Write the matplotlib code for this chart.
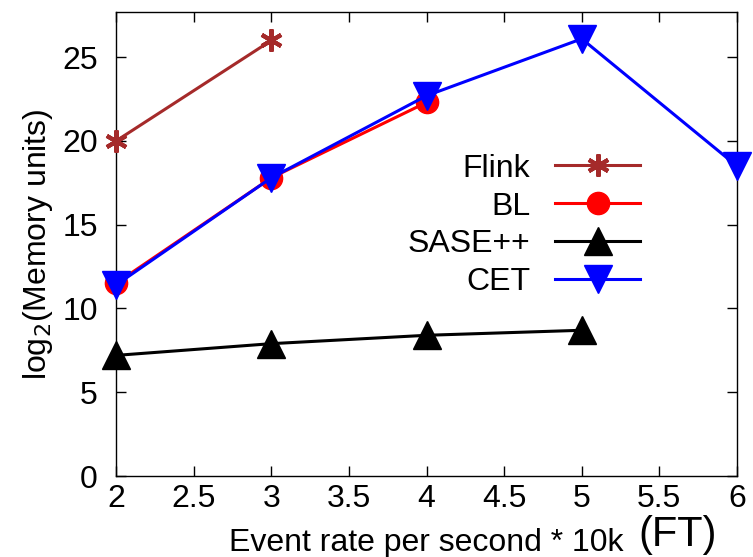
import numpy as np
import matplotlib.pyplot as plt

plt.rcParams['font.family'] = ['Liberation Sans', 'DejaVu Sans']

# data
x_flink = [2, 3]
y_flink = [20.0, 26.0]

x_bl = [2, 3, 4]
y_bl = [11.5, 17.8, 22.3]

x_sase = [2, 3, 4, 5]
y_sase = [7.2, 7.9, 8.4, 8.7]

x_cet = [2, 3, 4, 5, 6]
y_cet = [11.4, 17.8, 22.7, 26.1, 18.5]

xticks = [2, 2.5, 3, 3.5, 4, 4.5, 5, 5.5, 6]
xticklabels = ['2', '2.5', '3', '3.5', '4', '4.5', '5', '5.5', '6']
yticks = [0, 5, 10, 15, 20, 25]

fig = plt.figure(figsize=(7.53, 5.57), dpi=100)
ax = fig.add_axes([116/753, 81/557, 621/753, 464/557])

lw = 2.2
ax.plot(x_flink, y_flink, color='#a52a2a', lw=lw, marker=(6, 2, 0),
        ms=16, mew=3, label='Flink', clip_on=False, zorder=3)
ax.plot(x_bl, y_bl, color='#ff0000', lw=lw, marker='o', ms=16,
        label='BL', clip_on=False, zorder=3)
ax.plot(x_sase, y_sase, color='black', lw=lw, marker='^', ms=20,
        label='SASE++', clip_on=False, zorder=3)
ax.plot(x_cet, y_cet, color='#0000ff', lw=lw, marker='v', ms=20,
        label='CET', clip_on=False, zorder=4)

ax.set_xlim(2, 6)
ax.set_ylim(0, 27.7)
ax.set_xticks(xticks)
ax.set_xticklabels(xticklabels)
ax.set_yticks(yticks)
ax.tick_params(direction='in', length=7, width=1, labelsize=23,
               top=True, right=True, pad=6)
ax.tick_params(axis='y', pad=13)
for s in ax.spines.values():
    s.set_linewidth(1)

ax.set_ylabel(r'log$_2$(Memory units)', fontsize=23, labelpad=5)
ax.set_xlabel('Event rate per second * 10k', fontsize=23, labelpad=10)
fig.text(638/753, 11/557, '(FT)', fontsize=30, ha='left', va='baseline')

ax.legend(loc='upper right', bbox_to_anchor=(0.844, 0.695), frameon=False,
          markerfirst=False, fontsize=23, handlelength=2.66,
          handletextpad=0.78, labelspacing=0.25, borderpad=0,
          borderaxespad=0)

fig.savefig('out.png', dpi=100)
